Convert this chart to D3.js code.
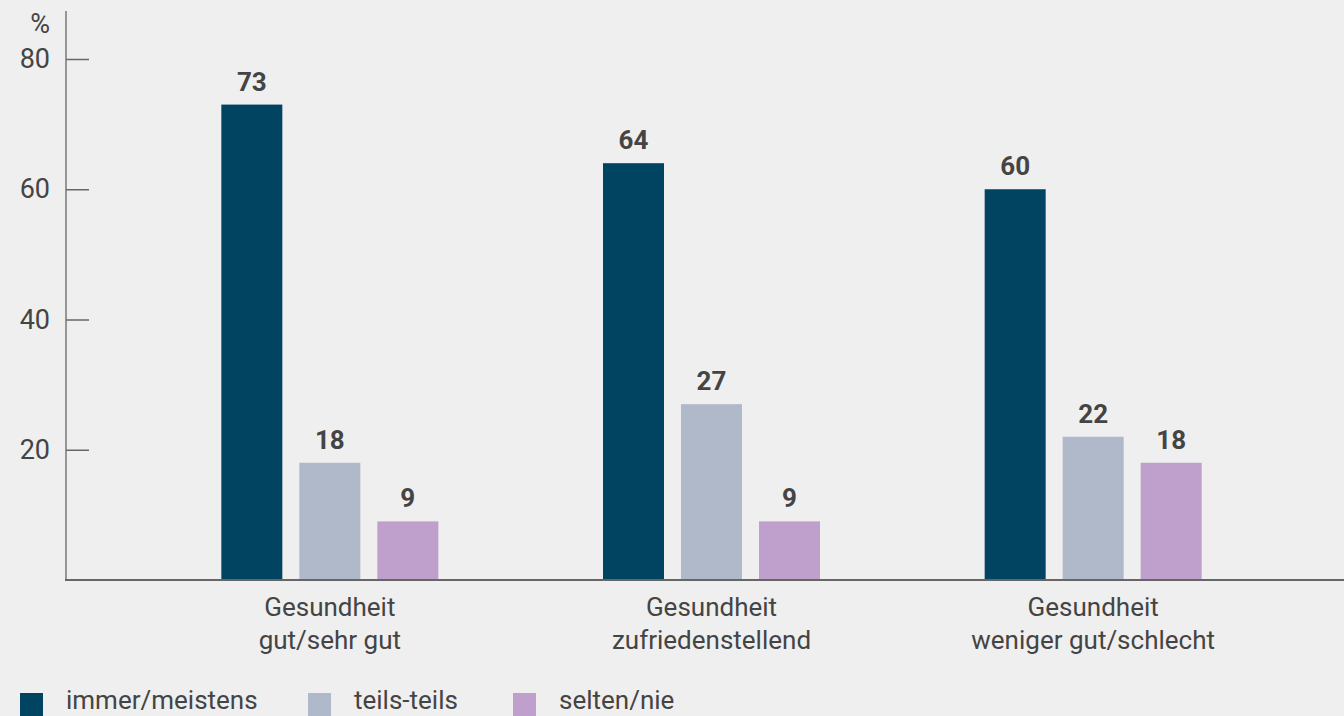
<!DOCTYPE html>
<html lang="de">
<head>
    <meta charset="UTF-8">
    <title>Gesundheit</title>
    <style>
        html, body { margin: 0; padding: 0; background: #efefef; }
        svg { display: block; }
        text { font-family: "Roboto", "Open Sans", sans-serif; fill: #444; }
    </style>
</head>
<body>
<script src="https://cdn.jsdelivr.net/npm/d3@7"></script>
<script>

    let w = 1344, h = 716;

    // Daten
    let categories = [["Gesundheit", "gut/sehr gut"], ["Gesundheit", "zufriedenstellend"], ["Gesundheit", "weniger gut/schlecht"]];
    let seriesNames = ["immer/meistens", "teils-teils", "selten/nie"];
    let immer = [73, 64, 60];
    let teils = [18, 27, 22];
    let selten = [9, 9, 18];
    let yTicks = [20, 40, 60, 80];
    let colors = ["#004462", "#b0b9ca", "#bf9fcb"];

    let allSeries = [immer, teils, selten];

    let svg = d3.select("body")
        .append("svg")
        .attr("width", w)
        .attr("height", h);

    // Skalen
    let yScale = d3.scaleLinear()
        .domain([0, 80])
        .range([580, 59]);

    let xScale = d3.scaleBand()
        .domain(d3.range(categories.length))
        .range([139, 1284]);

    let subScale = d3.scaleBand()
        .domain(d3.range(seriesNames.length))
        .range([-108.5, 108.5])
        .paddingInner(17 / 78)
        .paddingOuter(0);

    // Balken
    allSeries.forEach(function (vals, s) {
        let g = svg.append("g");
        vals.forEach(function (v, i) {
            let cx = xScale(i) + xScale.bandwidth() / 2;
            let x = cx + subScale(s);
            g.append("rect")
                .attr("x", x)
                .attr("y", yScale(v))
                .attr("width", subScale.bandwidth())
                .attr("height", yScale(0) - yScale(v))
                .attr("fill", colors[s]);
            g.append("text")
                .attr("x", x + subScale.bandwidth() / 2)
                .attr("y", yScale(v) - 14)
                .attr("text-anchor", "middle")
                .style("font-size", "26px")
                .style("font-weight", "bold")
                .text(v);
        });
    });

    // y-Achse
    let yAxis = d3.axisLeft(yScale)
        .tickValues(yTicks)
        .tickSize(0)
        .tickPadding(16);

    let ya = svg.append("g")
        .attr("transform", "translate(66,0)")
        .call(yAxis);
    ya.select(".domain").remove();
    ya.selectAll(".tick text")
        .style("font-size", "27px")
        .style("font-family", null)
        .attr("fill", "#444");
    ya.selectAll(".tick").append("line")
        .attr("x1", 0)
        .attr("x2", 23)
        .attr("stroke", "#666")
        .attr("stroke-width", 1.5);

    svg.append("line")
        .attr("x1", 66).attr("x2", 66)
        .attr("y1", 11).attr("y2", 580)
        .attr("stroke", "#777")
        .attr("stroke-width", 1.5);
    svg.append("line")
        .attr("x1", 65).attr("x2", w)
        .attr("y1", 580).attr("y2", 580)
        .attr("stroke", "#666")
        .attr("stroke-width", 2);

    svg.append("text")
        .attr("x", 50)
        .attr("y", 33)
        .attr("text-anchor", "end")
        .style("font-size", "27px")
        .text("%");

    // Kategorien
    categories.forEach(function (lines, i) {
        let t = svg.append("text")
            .attr("text-anchor", "middle")
            .style("font-size", "26px");
        lines.forEach(function (l, k) {
            t.append("tspan")
                .attr("x", xScale(i) + xScale.bandwidth() / 2)
                .attr("y", 616 + k * 33)
                .text(l);
        });
    });

    // Legende
    let legendX = [20, 308, 513];
    seriesNames.forEach(function (name, s) {
        svg.append("rect")
            .attr("x", legendX[s])
            .attr("y", 693)
            .attr("width", 23)
            .attr("height", 23)
            .attr("fill", colors[s]);
        svg.append("text")
            .attr("x", legendX[s] + 46)
            .attr("y", 709)
            .style("font-size", "26px")
            .text(name);
    });

</script>
</body>
</html>
